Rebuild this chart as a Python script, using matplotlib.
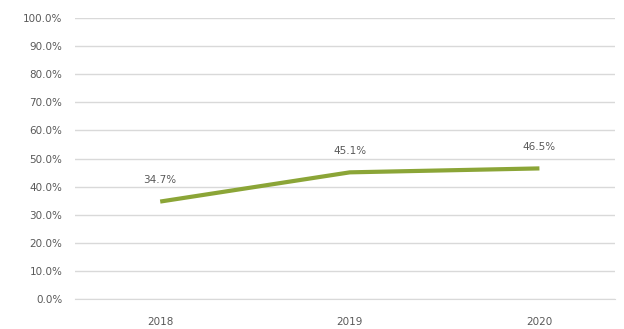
import matplotlib
matplotlib.use("Agg")
import matplotlib.pyplot as plt
from matplotlib.ticker import FuncFormatter

years = ["2018", "2019", "2020"]
values = [34.7, 45.1, 46.5]
labels = ["34.7%", "45.1%", "46.5%"]
yticks = [0, 10, 20, 30, 40, 50, 60, 70, 80, 90, 100]

fig = plt.figure(figsize=(6.24, 3.29), dpi=100)
ax = fig.add_axes([0.12, 0.091, 0.866, 0.854])
x = list(range(len(years)))
ax.plot(x, values, color="#8BA537", linewidth=3, solid_capstyle="butt")
for xi, v, lab in zip(x, values, labels):
    ax.annotate(lab, (xi, v), xytext=(0, 12), textcoords="offset points",
                ha="center", va="bottom", fontsize=7.5, color="#595959")
ax.set_xlim(-0.45, 2.4)
ax.set_ylim(0, 100)
ax.set_yticks(yticks)
ax.yaxis.set_major_formatter(FuncFormatter(lambda v, p: f"{v:.1f}%"))
ax.set_xticks(x)
ax.set_xticklabels(years)
ax.grid(axis="y", color="#d9d9d9", linewidth=1)
ax.set_axisbelow(True)
for s in ["top", "right", "left"]:
    ax.spines[s].set_visible(False)
ax.spines["bottom"].set_color("#d9d9d9")
ax.tick_params(axis="both", length=0, labelsize=7.5, labelcolor="#595959")
ax.tick_params(axis="y", pad=9)
ax.tick_params(axis="x", pad=13)
fig.savefig("out.png", dpi=100, facecolor="white")
